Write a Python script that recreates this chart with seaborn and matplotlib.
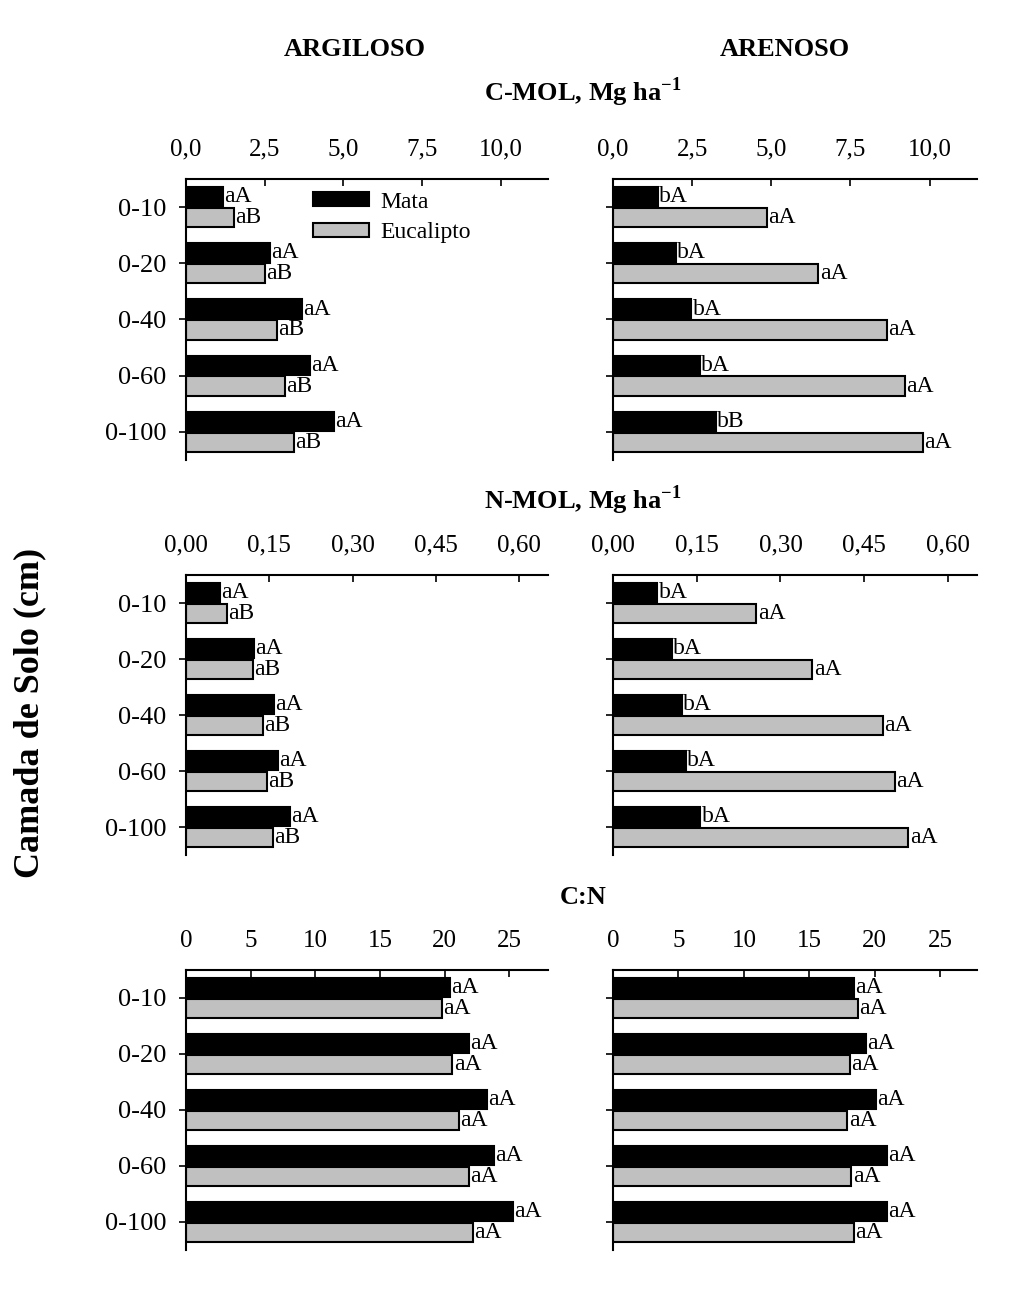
import matplotlib
matplotlib.use("Agg")
import matplotlib.pyplot as plt
import seaborn as sns
import pandas as pd
from matplotlib.patches import Patch

sns.set_theme(style="white")
plt.rcParams['font.family'] = ['Liberation Serif', 'DejaVu Serif']
plt.rcParams['mathtext.fontset'] = 'custom'
plt.rcParams['mathtext.rm'] = 'Liberation Serif'
plt.rcParams['mathtext.bf'] = 'Liberation Serif:bold'
for k in ['text.color', 'axes.labelcolor', 'xtick.color', 'ytick.color', 'axes.edgecolor']:
    plt.rcParams[k] = 'black'

layers = ["0-10", "0-20", "0-40", "0-60", "0-100"]
treatments = ["Mata", "Eucalipto"]

# C-MOL, Mg ha-1
cmol_arg_mata = [1.18, 2.66, 3.67, 3.93, 4.69]
cmol_arg_euc = [1.52, 2.51, 2.89, 3.15, 3.42]
cmol_are_mata = [1.42, 1.98, 2.48, 2.74, 3.24]
cmol_are_euc = [4.86, 6.49, 8.65, 9.22, 9.79]
cmol_arg_lab_mata = ["aA"] * 5
cmol_arg_lab_euc = ["aB"] * 5
cmol_are_lab_mata = ["bA", "bA", "bA", "bA", "bB"]
cmol_are_lab_euc = ["aA"] * 5

# N-MOL, Mg ha-1
nmol_arg_mata = [0.061, 0.122, 0.158, 0.166, 0.187]
nmol_arg_euc = [0.074, 0.121, 0.139, 0.146, 0.156]
nmol_are_mata = [0.079, 0.105, 0.123, 0.130, 0.156]
nmol_are_euc = [0.257, 0.357, 0.483, 0.505, 0.529]
nmol_arg_lab_mata = ["aA"] * 5
nmol_arg_lab_euc = ["aB"] * 5
nmol_are_lab_mata = ["bA"] * 5
nmol_are_lab_euc = ["aA"] * 5

# C:N
cn_arg_mata = [20.4, 21.9, 23.3, 23.8, 25.3]
cn_arg_euc = [19.8, 20.6, 21.1, 21.9, 22.2]
cn_are_mata = [18.4, 19.3, 20.1, 20.9, 20.9]
cn_are_euc = [18.7, 18.1, 17.9, 18.2, 18.4]
cn_lab = ["aA"] * 5

cmol_ticks = [0, 2.5, 5.0, 7.5, 10.0]
cmol_ticklabels = ["0,0", "2,5", "5,0", "7,5", "10,0"]
nmol_ticks = [0, 0.15, 0.30, 0.45, 0.60]
nmol_ticklabels = ["0,00", "0,15", "0,30", "0,45", "0,60"]
cn_ticks = [0, 5, 10, 15, 20, 25]
cn_ticklabels = ["0", "5", "10", "15", "20", "25"]

colors = {"Mata": "#000000", "Eucalipto": "#C0C0C0"}

W, H = 1012, 1292
fig = plt.figure(figsize=(W / 100, H / 100), dpi=100)

cols = [(186, 548), (613, 977)]
rows = [(179, 460), (575, 855), (970, 1250)]


def make_ax(r, c):
    x0, x1 = cols[c]
    y0, y1 = rows[r]
    return fig.add_axes([x0 / W, 1 - y1 / H, (x1 - x0) / W, (y1 - y0) / H])


panels = [
    (0, 0, cmol_arg_mata, cmol_arg_euc, cmol_arg_lab_mata, cmol_arg_lab_euc, cmol_ticks, cmol_ticklabels, 11.5),
    (0, 1, cmol_are_mata, cmol_are_euc, cmol_are_lab_mata, cmol_are_lab_euc, cmol_ticks, cmol_ticklabels, 11.5),
    (1, 0, nmol_arg_mata, nmol_arg_euc, nmol_arg_lab_mata, nmol_arg_lab_euc, nmol_ticks, nmol_ticklabels, 0.652),
    (1, 1, nmol_are_mata, nmol_are_euc, nmol_are_lab_mata, nmol_are_lab_euc, nmol_ticks, nmol_ticklabels, 0.652),
    (2, 0, cn_arg_mata, cn_arg_euc, cn_lab, cn_lab, cn_ticks, cn_ticklabels, 28.0),
    (2, 1, cn_are_mata, cn_are_euc, cn_lab, cn_lab, cn_ticks, cn_ticklabels, 27.8),
]

for r, c, vm, ve, lm, le, ticks, tlabels, xmax in panels:
    ax = make_ax(r, c)
    df = pd.DataFrame({
        "Camada": layers * 2,
        "Valor": list(vm) + list(ve),
        "Tratamento": ["Mata"] * 5 + ["Eucalipto"] * 5,
    })
    sns.barplot(data=df, y="Camada", x="Valor", hue="Tratamento",
                order=layers, hue_order=treatments, palette=colors,
                orient="h", width=0.74, edgecolor="black", linewidth=1.5,
                errorbar=None, legend=False, ax=ax, gap=0.06)
    ax.bar_label(ax.containers[0], labels=lm, padding=1, fontsize=17,
                 family="Liberation Serif", color="black")
    ax.bar_label(ax.containers[1], labels=le, padding=1, fontsize=17,
                 family="Liberation Serif", color="black")
    ax.set_xlim(0, xmax)
    ax.set_ylim(4.5, -0.5)
    ax.xaxis.tick_top()
    ax.set_xticks(ticks)
    ax.set_xticklabels(tlabels, fontsize=18)
    ax.tick_params(axis="x", direction="in", length=5, width=1.2, pad=13,
                   top=True, bottom=False, colors="black")
    ax.tick_params(axis="y", direction="out", length=5, width=1.2, left=True,
                   labelsize=19, pad=9, colors="black")
    if c == 1:
        ax.set_yticklabels([])
    ax.set_xlabel("")
    ax.set_ylabel("")
    for s in ["right", "bottom"]:
        ax.spines[s].set_visible(False)
    for s in ["top", "left"]:
        ax.spines[s].set_visible(True)
        ax.spines[s].set_color("black")
        ax.spines[s].set_linewidth(1.5)
    ax.set_facecolor("white")
    if r == 0 and c == 0:
        handles = [Patch(facecolor=colors[t], edgecolor="black", linewidth=1.5) for t in treatments]
        ax.legend(handles, treatments, loc="upper left", bbox_to_anchor=(0.35, 0.955),
                  frameon=False, fontsize=17, handlelength=2.4, handleheight=0.55,
                  labelspacing=0.4, handletextpad=0.45, borderpad=0, borderaxespad=0)

fig.text(355 / W, 1 - 50 / H, "ARGILOSO", ha="center", va="center", fontsize=19, fontweight="bold")
fig.text(785 / W, 1 - 50 / H, "ARENOSO", ha="center", va="center", fontsize=19, fontweight="bold")
fig.text(583 / W, 1 - 92 / H, r"C-MOL, Mg ha$^{\mathbf{-1}}$", ha="center", va="center", fontsize=19, fontweight="bold")
fig.text(583 / W, 1 - 500 / H, r"N-MOL, Mg ha$^{\mathbf{-1}}$", ha="center", va="center", fontsize=19, fontweight="bold")
fig.text(583 / W, 1 - 897 / H, "C:N", ha="center", va="center", fontsize=19, fontweight="bold")
fig.text(30 / W, 1 - 713 / H, "Camada de Solo (cm)", ha="center", va="center", rotation=90,
         fontsize=26, fontweight="bold")

fig.savefig("out.png", dpi=100, facecolor="white")
